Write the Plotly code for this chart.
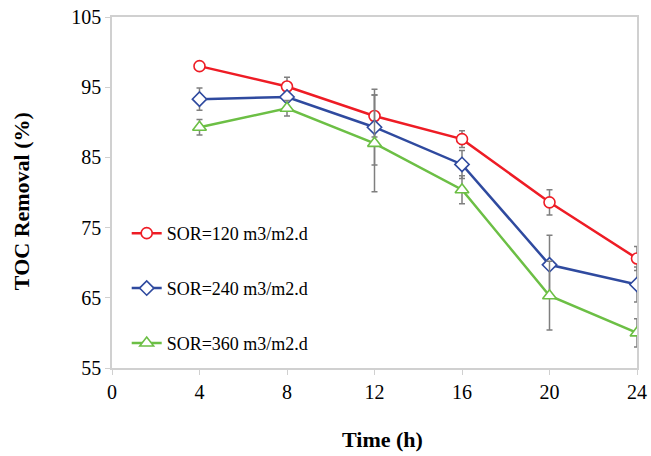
import plotly.graph_objects as go

time_h = [4, 8, 12, 16, 20, 24]

sor120 = [98.0, 95.1, 90.9, 87.6, 78.6, 70.6]
sor120_err = [0.4, 1.3, 3.0, 1.2, 1.8, 1.7]

sor240 = [93.3, 93.6, 89.3, 84.0, 69.7, 66.9]
sor240_err = [1.6, 0.4, 5.4, 2.0, 4.2, 2.5]

sor360 = [89.3, 92.0, 87.0, 80.4, 65.3, 60.0]
sor360_err = [1.1, 1.1, 6.9, 2.0, 4.9, 2.0]

names = ["SOR=120 m3/m2.d", "SOR=240 m3/m2.d", "SOR=360 m3/m2.d"]
x_ticks = [0, 4, 8, 12, 16, 20, 24]
y_ticks = [55, 65, 75, 85, 95, 105]
x_title = "Time (h)"
y_title = "TOC Removal (%)"

series = [
    (sor120, sor120_err, "#ee1c25", "circle", 11),
    (sor240, sor240_err, "#2f4a9f", "diamond", 11),
    (sor360, sor360_err, "#6cbf45", "triangle-up", 12),
]

fig = go.Figure()
for i, (vals, errs, col, sym, sz) in enumerate(series):
    fig.add_trace(go.Scatter(
        x=time_h, y=vals, name=names[i], mode="lines+markers",
        legendgroup=f"g{i}",
        line=dict(color=col, width=2.5),
        marker=dict(symbol=sym, size=sz, color="white",
                    line=dict(color=col, width=1.6)),
        error_y=dict(type="data", array=errs, visible=True,
                     color="#7f7f7f", thickness=1.5, width=3),
    ))

font_family = "Liberation Serif, Times New Roman, serif"
fig.update_layout(
    width=651, height=456,
    margin=dict(l=112, r=14, t=17, b=88),
    paper_bgcolor="white", plot_bgcolor="white",
    font=dict(family=font_family, size=18, color="black"),
    showlegend=True,
    legend=dict(x=0.028, y=0.436, xanchor="left", yanchor="top",
                bgcolor="rgba(0,0,0,0)", tracegroupgap=28.5,
                itemwidth=30, font=dict(size=18, family=font_family)),
    xaxis=dict(range=[0, 24], tickvals=x_ticks, ticktext=[str(v) for v in x_ticks],
               showgrid=False, zeroline=False, showline=True, linecolor="#d0d0d0",
               linewidth=1.5, mirror=True, ticks="outside", ticklen=5,
               tickcolor="#d0d0d0", tickfont=dict(size=20), automargin=False),
    yaxis=dict(range=[55, 105], tickvals=y_ticks, ticktext=[str(v) for v in y_ticks],
               showgrid=False, zeroline=False, showline=True, linecolor="#d0d0d0",
               linewidth=1.5, mirror=True, ticks="outside", ticklen=5,
               tickcolor="#d0d0d0", tickfont=dict(size=20), automargin=False),
    annotations=[
        dict(text=f"<b>{x_title}</b>", xref="paper", yref="paper",
             x=0.516, y=-0.205, xanchor="center", yanchor="middle",
             showarrow=False, font=dict(size=22, family=font_family)),
        dict(text=f"<b>{y_title}</b>", xref="paper", yref="paper",
             x=-0.171, y=0.476, xanchor="center", yanchor="middle",
             textangle=-90, showarrow=False, font=dict(size=22, family=font_family)),
    ],
)

fig.write_html("out.html", config={"displayModeBar": False},
               post_script="document.body.style.margin='0';")
